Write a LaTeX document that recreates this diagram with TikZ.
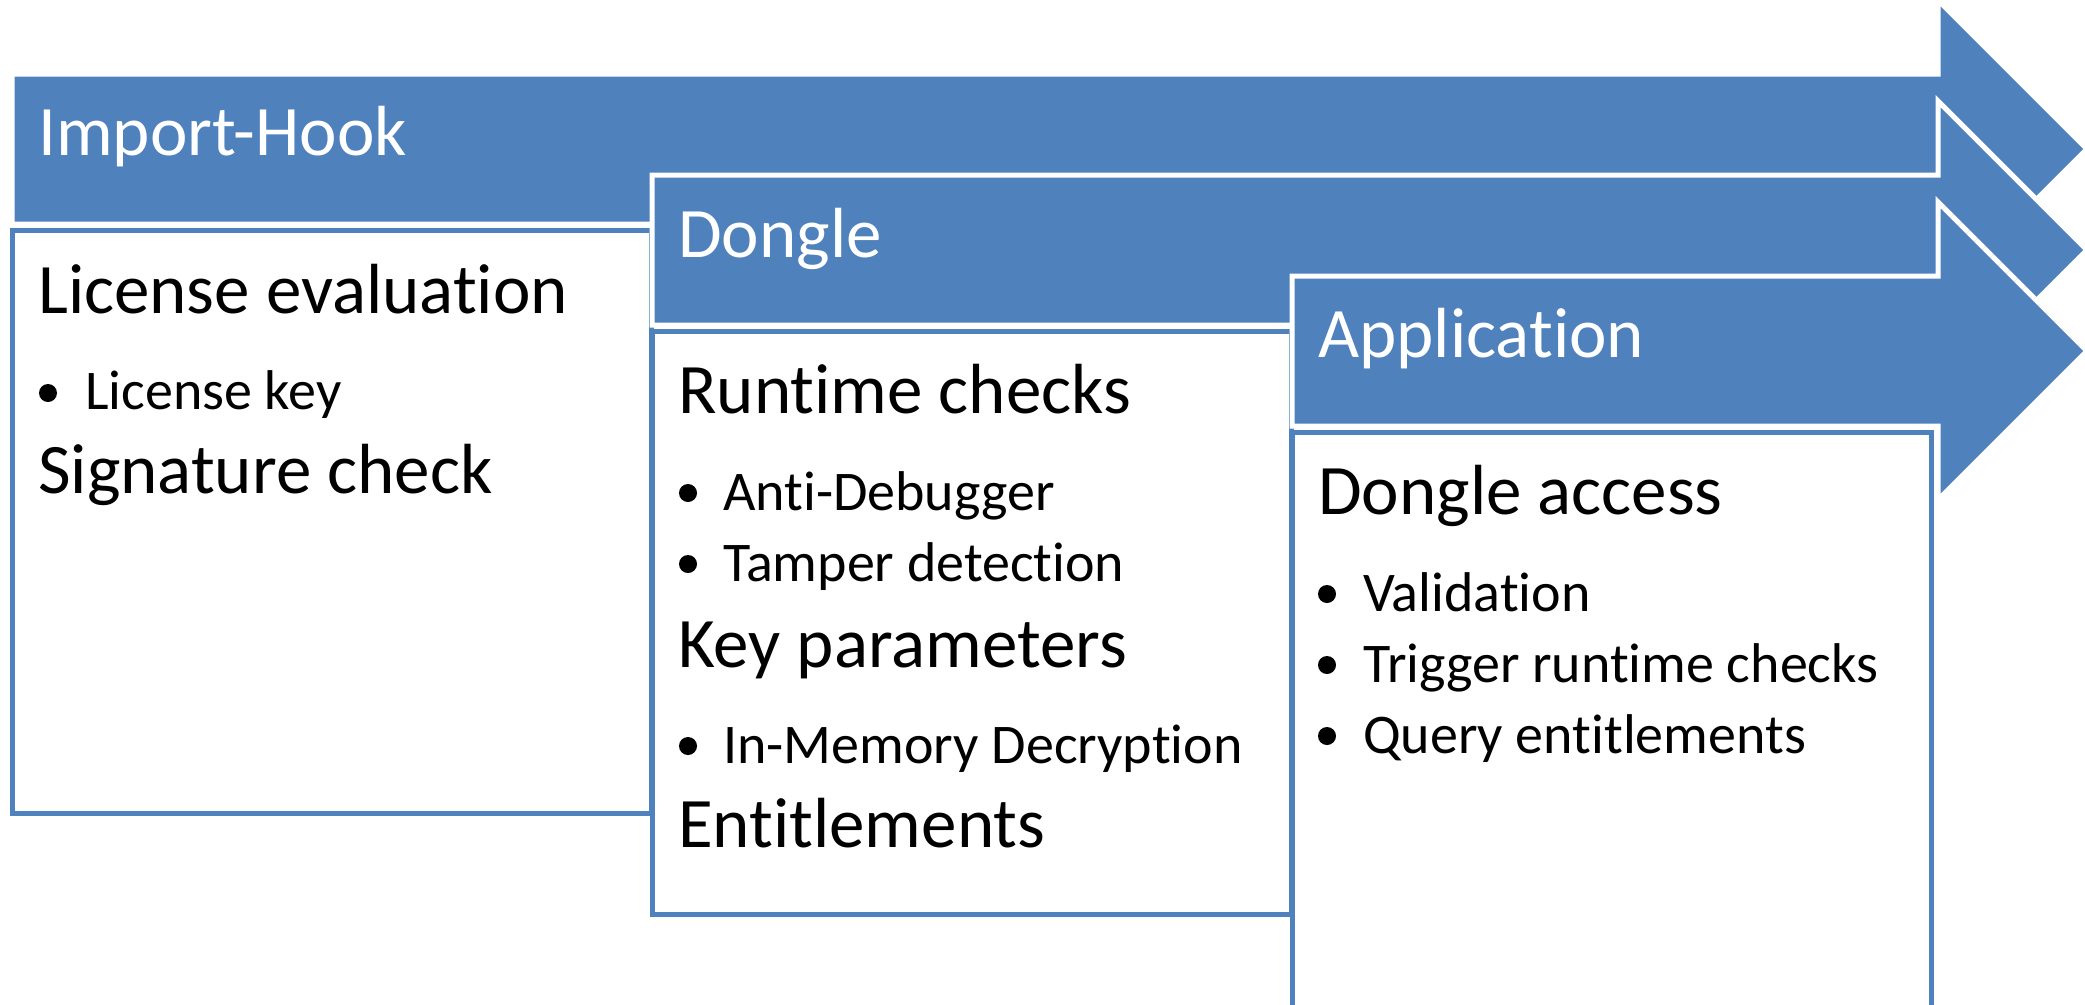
\documentclass[tikz,border=0pt]{standalone}
\usepackage{fontspec}
\setmainfont{Carlito}[Ligatures={NoCommon,NoContextual}]
\definecolor{accent}{HTML}{4F81BD}
\newcommand\headsize{\fontsize{71}{85}\selectfont}
\newcommand\itemsize{\fontsize{56}{67}\selectfont}
\tikzset{
  flowarrow/.style={fill=accent, draw=white, line width=5pt, line join=miter},
  panel/.style={draw=accent, fill=white, line width=5pt},
  stagetitle/.style={text=white, font=\headsize, anchor=base west, inner sep=0pt},
  topic/.style={text=black, font=\headsize, anchor=base west, inner sep=0pt},
  entry/.style={text=black, font=\itemsize, anchor=base west, inner sep=0pt},
  dot/.style={fill=black},
}
\begin{document}
\begin{tikzpicture}[x=1pt, y=-1pt]
\useasboundingbox (0,0) rectangle (2085,1004);
\clip (0,0) rectangle (2085,1004);

% stage 1: Import-Hook
\draw[flowarrow] (12,74) -- (1938,74) -- (1938,0) -- (2087,149) -- (1938,298) -- (1938,224) -- (12,224) -- cycle;
\node[stagetitle] (t1) at (38,155) {Import-Hook};
\draw[panel] (12,230.5) rectangle (651,813);
\node[topic] (a1) at (38,313) {License evaluation};
\fill[dot] (48,393) circle (9pt);
\node[entry] (a2) at (85,409) {License key};
\node[topic] (a3) at (38,493) {Signature check};

% stage 2: Dongle
\draw[flowarrow] (652,175) -- (1938,175) -- (1938,101) -- (2087,250) -- (1938,399) -- (1938,325) -- (652,325) -- cycle;
\node[stagetitle] (t2) at (678,257) {Dongle};
\draw[panel] (652,331) rectangle (1291,914);
\node[topic] (b1) at (678,413) {Runtime checks};
\fill[dot] (688,493) circle (9pt);
\node[entry] (b2) at (723,510) {Anti-Debugger};
\fill[dot] (688,564) circle (9pt);
\node[entry] (b3) at (723,581) {Tamper detection};
\node[topic] (b4) at (678,667) {Key parameters};
\fill[dot] (688,746) circle (9pt);
\node[entry] (b5) at (723,763) {In-Memory Decryption};
\node[topic] (b6) at (678,847) {Entitlements};

% stage 3: Application
\draw[flowarrow] (1292,276) -- (1938,276) -- (1938,202) -- (2087,351) -- (1938,500) -- (1938,426) -- (1292,426) -- cycle;
\node[stagetitle] (t3) at (1318,357) {Application};
\draw[panel] (1292,432) rectangle (1931,1015);
\node[topic] (c1) at (1318,514) {Dongle access};
\fill[dot] (1327,594) circle (9pt);
\node[entry] (c2) at (1363,611) {Validation};
\fill[dot] (1327,665) circle (9pt);
\node[entry] (c3) at (1363,682) {Trigger runtime checks};
\fill[dot] (1327,736) circle (9pt);
\node[entry] (c4) at (1363,753) {Query entitlements};
\end{tikzpicture}
\end{document}
